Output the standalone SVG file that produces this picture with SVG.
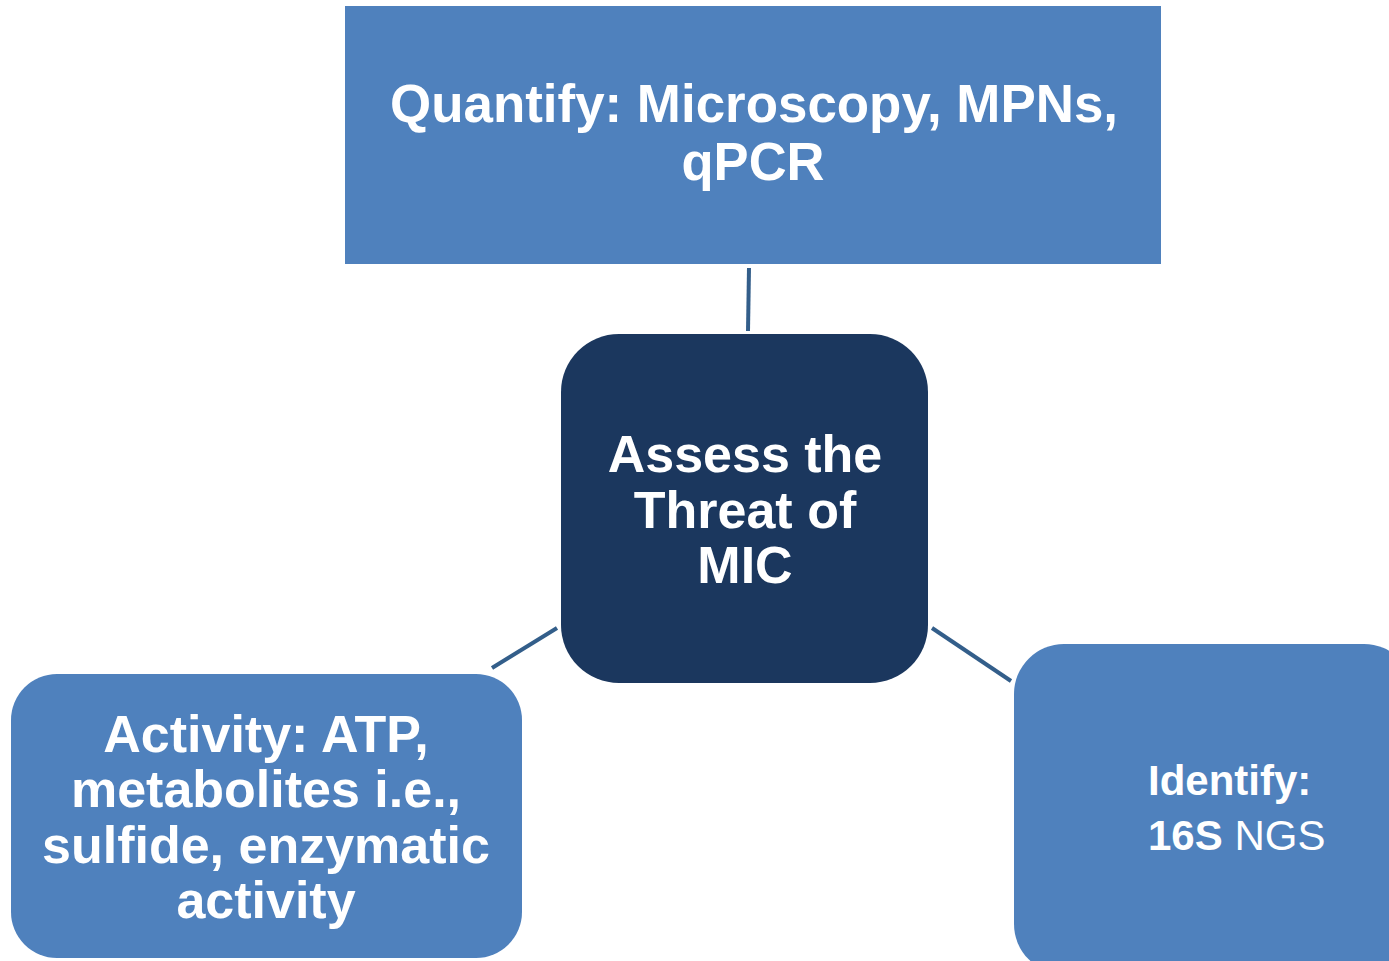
<svg xmlns="http://www.w3.org/2000/svg" width="1389" height="961" viewBox="0 0 1389 961">
<style>
.light{fill:#4F81BD}
.dark{fill:#1B375E}
.conn{stroke:#335E8A;stroke-width:4;fill:none}
.t{fill:#fff;font-family:"Liberation Sans",Arial,sans-serif;font-weight:bold;text-anchor:middle}
</style>
<rect width="1389" height="961" fill="#fff"/>
<g id="connectors">
<line class="conn" x1="749" y1="268" x2="748" y2="331"/>
<line class="conn" x1="557" y1="628" x2="492" y2="668"/>
<line class="conn" x1="932" y1="628" x2="1011" y2="681"/>
</g>
<g id="quantify">
<rect class="light" x="345" y="6" width="816" height="258"/>
<text class="t" font-size="54" x="754" y="122" textLength="728" lengthAdjust="spacingAndGlyphs">Quantify: Microscopy, MPNs,</text>
<text class="t" font-size="54" x="753" y="180" textLength="143" lengthAdjust="spacingAndGlyphs">qPCR</text>
</g>
<g id="assess">
<rect class="dark" x="561" y="334" width="367" height="349" rx="58"/>
<text class="t" font-size="52" x="745" y="472">Assess the</text>
<text class="t" font-size="52" x="745" y="528">Threat of</text>
<text class="t" font-size="52" x="745" y="583">MIC</text>
</g>
<g id="activity">
<rect class="light" x="11" y="674" width="511" height="284" rx="46"/>
<text class="t" font-size="52" x="266" y="752">Activity: ATP,</text>
<text class="t" font-size="52" x="266" y="807">metabolites i.e.,</text>
<text class="t" font-size="52" x="266" y="863">sulfide, enzymatic</text>
<text class="t" font-size="52" x="266" y="918">activity</text>
</g>
<g id="identify">
<rect class="light" x="1014" y="644" width="400" height="330" rx="50"/>
<text class="t" font-size="42" x="1148" y="795" text-anchor="start" style="text-anchor:start">Identify:</text>
<text class="t" font-size="42" x="1148" y="850" style="text-anchor:start">16S<tspan font-weight="normal"> NGS</tspan></text>
</g>
</svg>
